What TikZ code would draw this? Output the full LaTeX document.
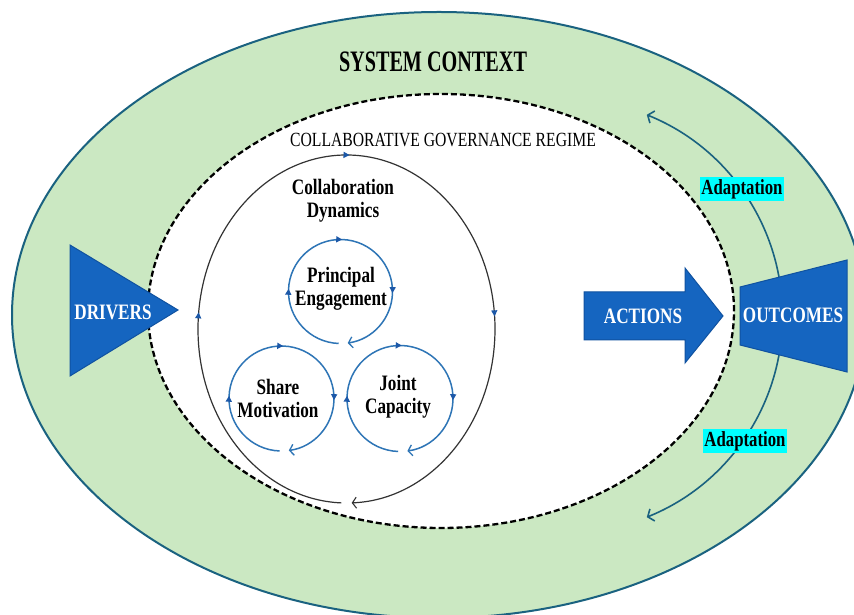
\documentclass[tikz,border=0pt]{standalone}
\usepackage{fontspec}
\setmainfont{Liberation Serif}
\newfontfamily\condf[FakeStretch=0.78]{Liberation Serif}
\newfontfamily\condt[FakeStretch=0.68]{Liberation Serif}
\usetikzlibrary{arrows.meta,decorations.markings,shapes.geometric}
\definecolor{ctxgreen}{RGB}{203,232,194}
\definecolor{ctxedge}{RGB}{26,98,128}
\definecolor{shapeblue}{RGB}{21,101,192}
\definecolor{shapeedge}{RGB}{16,82,160}
\definecolor{cycblue}{RGB}{46,117,182}
\definecolor{markblue}{RGB}{28,88,168}
\definecolor{adcyan}{RGB}{0,255,255}
\begin{document}
\begin{tikzpicture}[x=1pt,y=1pt,
  bigtxt/.style={font=\condf\bfseries\fontsize{22}{23}\selectfont, text=white, inner sep=0pt},
  lbl/.style={font=\condf\bfseries\fontsize{22}{23}\selectfont, align=center, inner sep=0pt},
  adlbl/.style={font=\condf\bfseries\fontsize{21.5}{22}\selectfont, fill=adcyan, inner xsep=1pt, inner ysep=0pt, minimum height=24pt},
  blueshape/.style={fill=shapeblue, draw=shapeedge, line width=1pt, line join=miter},
  adapt/.style={draw=ctxedge, line width=1.6pt, -{Straight Barb[length=5pt,width=13pt,line width=1.6pt]}},
  midtip/.style={postaction={decorate}},
  cycline/.style={draw=cycblue, line width=1.5pt, -{Straight Barb[length=4pt,width=11pt,line width=1.3pt]},
    decoration={markings,
      mark=at position 0.26 with {\arrow[markblue]{Triangle[length=6pt,width=6pt]}},
      mark=at position 0.514 with {\arrow[markblue]{Triangle[length=6pt,width=6pt]}},
      mark=at position 0.771 with {\arrow[markblue]{Triangle[length=6pt,width=6pt]}}},
    postaction={decorate}},
  dynline/.style={draw=black!80, line width=1.2pt, -{Straight Barb[length=4pt,width=11pt,line width=1.1pt]},
    decoration={markings,
      mark=at position 0.264 with {\arrow[markblue]{Triangle[length=6pt,width=6pt]}},
      mark=at position 0.503 with {\arrow[markblue]{Triangle[length=6pt,width=6pt]}},
      mark=at position 0.74 with {\arrow[markblue]{Triangle[length=6pt,width=6pt]}}},
    postaction={decorate}}]
\useasboundingbox (0,0) rectangle (854,615);
% system context
\node[ellipse, draw=ctxedge, line width=2pt, fill=ctxgreen, minimum width=854, minimum height=606, inner sep=0pt] (sys) at (439,300) {};
\node[font=\condt\bfseries\fontsize{29.7}{30}\selectfont, inner sep=0pt] (systxt) at (433,553) {SYSTEM CONTEXT};
% adaptation arcs
\coordinate (adc) at (565.5,299);
\draw[adapt] ([shift={(0:217)}]adc) arc[start angle=0, end angle=68, radius=217];
\draw[adapt] ([shift={(0:217)}]adc) arc[start angle=0, end angle=-68, radius=217];
\node[adlbl] (ad1) at (742,426) {Adaptation};
\node[adlbl] (ad2) at (745,174) {Adaptation};
% governance regime
\node[ellipse, draw=black, line width=2.3pt, dash pattern=on 6pt off 3pt, fill=white, minimum width=586, minimum height=434, inner sep=0pt] (cgr) at (441,304) {};
\node[font=\condf\fontsize{20.1}{21}\selectfont, inner sep=0pt] (cgrtxt) at (443,475) {COLLABORATIVE GOVERNANCE REGIME};
% collaboration dynamics
\coordinate (cdc) at (346.5,286);
\draw[dynline] ([shift={(268:148.5 and 174)}]cdc) arc[start angle=268, end angle=-88, x radius=148.5, y radius=174];
\node[lbl] (cdtxt) at (343,414.5) {Collaboration\\Dynamics};
% cycles
\coordinate (pec) at (340.5,323.5);
\coordinate (smc) at (281.5,216.5);
\coordinate (jcc) at (400,216.5);
\draw[cycline] ([shift={(268:52)}]pec) arc[start angle=268, end angle=-82, radius=52];
\draw[cycline] ([shift={(268:52.5)}]smc) arc[start angle=268, end angle=-82, radius=52.5];
\draw[cycline] ([shift={(268:53)}]jcc) arc[start angle=268, end angle=-82, radius=53];
\node[lbl] (petxt) at (341,326.5) {Principal\\Engagement};
\node[lbl] (smtxt) at (278,216.5) {Share\\Motivation};
\node[lbl] (jctxt) at (398,218) {Joint\\Capacity};
% drivers
\draw[blueshape] (70,370) -- (178,305) -- (70,239) -- cycle;
\node[bigtxt] (drv) at (113,303) {DRIVERS};
% actions
\draw[blueshape] (584,323) -- (685,323) -- (685,347) -- (723,299) -- (685,252) -- (685,275) -- (584,275) -- cycle;
\node[bigtxt] (act) at (643,299) {ACTIONS};
% outcomes
\draw[blueshape] (740,328) -- (847,355) -- (847,243) -- (740,270) -- cycle;
\node[bigtxt] (out) at (793,300) {OUTCOMES};
\end{tikzpicture}
\end{document}
